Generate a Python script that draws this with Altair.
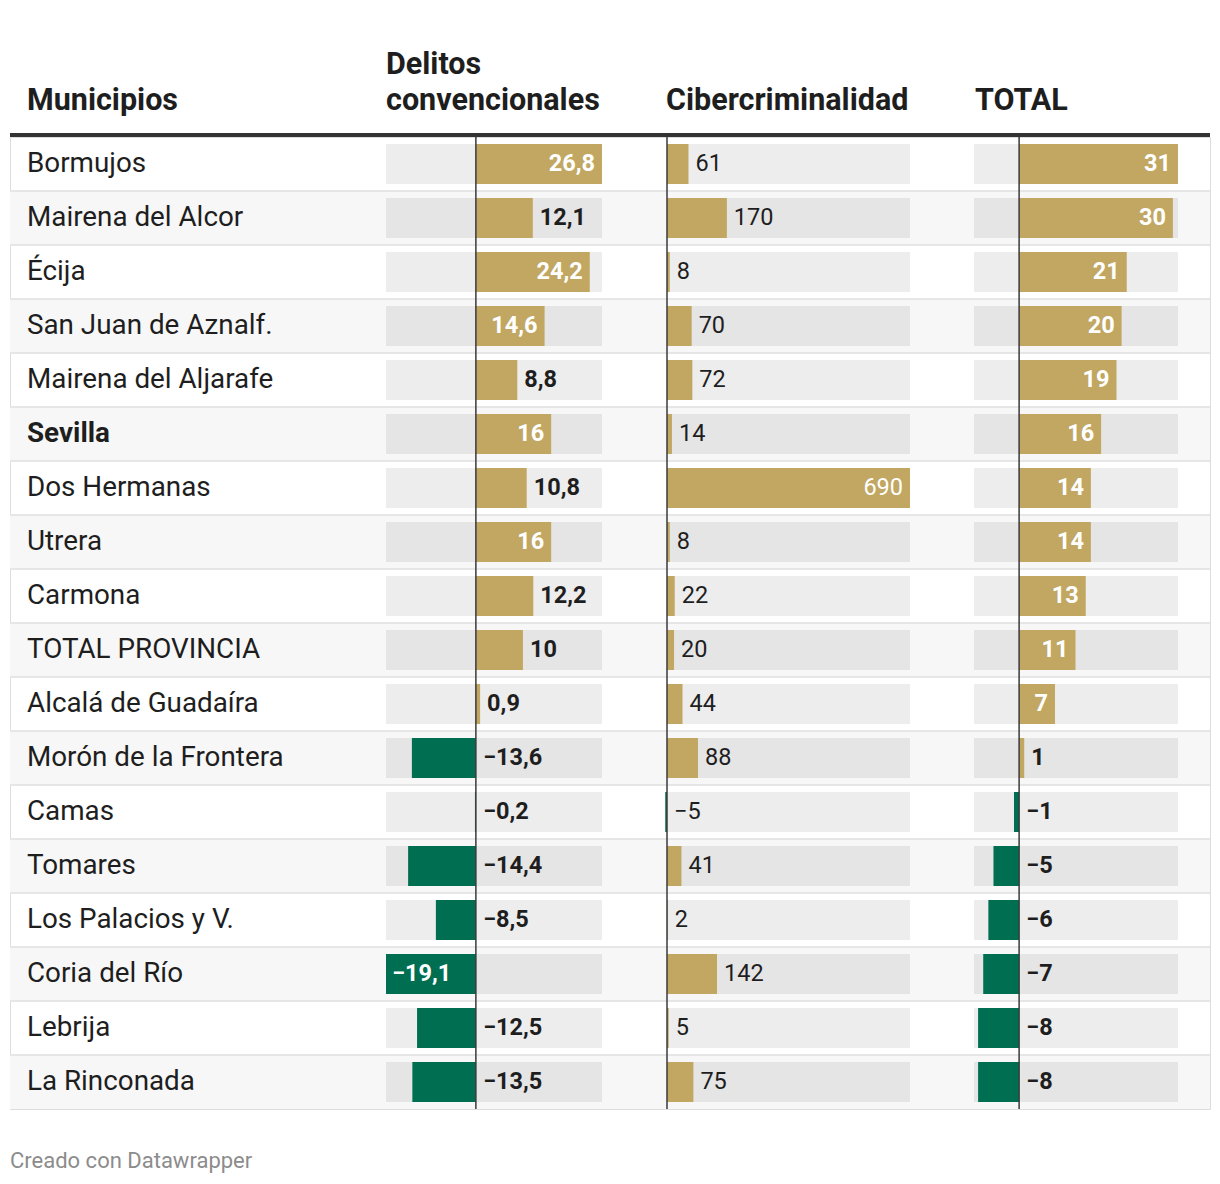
import altair as alt
import pandas as pd

names = ["Bormujos", "Mairena del Alcor", "Écija", "San Juan de Aznalf.", "Mairena del Aljarafe",
         "Sevilla", "Dos Hermanas", "Utrera", "Carmona", "TOTAL PROVINCIA", "Alcalá de Guadaíra",
         "Morón de la Frontera", "Camas", "Tomares", "Los Palacios y V.", "Coria del Río",
         "Lebrija", "La Rinconada"]
delitos = [26.8, 12.1, 24.2, 14.6, 8.8, 16, 10.8, 16, 12.2, 10, 0.9, -13.6, -0.2, -14.4, -8.5, -19.1, -12.5, -13.5]
ciber = [61, 170, 8, 70, 72, 14, 690, 8, 22, 20, 44, 88, -5, 41, 2, 142, 5, 75]
total = [31, 30, 21, 20, 19, 16, 14, 14, 13, 11, 7, 1, -1, -5, -6, -7, -8, -8]

headers = ["Municipios", "Delitos", "convencionales", "Cibercriminalidad", "TOTAL"]
footer = "Creado con Datawrapper"

GOLD = "#c1a762"
GREEN = "#006e51"
DARK = "#1e1e1e"
FONT = "Roboto"
W = 1200
ROW = 54
H = ROW * len(names)


def fmt(v):
    return f"{v:g}".replace(".", ",").replace("-", "\u2212")


df = pd.DataFrame({"name": names, "idx": range(len(names)), "d": delitos, "c": ciber, "t": total})
for f in ["d", "c", "t"]:
    df[f + "_lab"] = df[f].map(fmt)
    df[f + "_anc"] = df[f].clip(lower=0)
df["d_in"] = (df["d"] >= 14) | (df["d"] <= -15)
df["c_in"] = df["c"] > 600
df["t_in"] = df["t"] >= 5

yscale = alt.Scale(domain=names, paddingInner=0, paddingOuter=0)
Y = alt.Y("name:N", sort=names, scale=yscale, axis=None)

base = alt.Chart(df)
layers = []

# row backgrounds
layers.append(base.transform_filter("datum.idx % 2 == 1").mark_rect(color="#f7f7f7").encode(
    y=Y, x=alt.value(0), x2=alt.value(W)))
# separators
layers.append(base.transform_filter("datum.idx > 0").mark_rule(color="#e6e6e6", strokeWidth=2).encode(
    y=alt.Y("name:N", sort=names, scale=yscale, axis=None, bandPosition=0),
    x=alt.value(0), x2=alt.value(W)))

# names
layers.append(base.transform_filter("datum.name != 'Sevilla'").mark_text(
    align="left", baseline="middle", fontSize=27.8, color=DARK, font=FONT).encode(
    y=Y, x=alt.value(17), text="name:N"))
layers.append(base.transform_filter("datum.name == 'Sevilla'").mark_text(
    align="left", baseline="middle", fontSize=27.8, color=DARK, font=FONT, fontWeight="bold").encode(
    y=Y, x=alt.value(17), text="name:N"))


def column(f, dom, rng, box, weight):
    sc = alt.Scale(domain=dom, range=rng, nice=False, zero=False)
    out = []
    out.append(base.mark_bar(height=40, color="black", opacity=0.07).encode(
        y=Y, x=alt.XDatum(box[0], scale=sc, axis=None), x2=alt.X2Datum(box[1])))
    out.append(base.mark_bar(height=40).encode(
        y=Y, x=alt.X(f + ":Q", scale=sc, axis=None), x2=alt.X2Datum(0),
        color=alt.condition(f"datum.{f} >= 0", alt.value(GOLD), alt.value(GREEN))))
    tprops = dict(baseline="middle", fontSize=23.5, font=FONT, fontWeight=weight)
    out.append(base.transform_filter(f"datum.{f}_in && datum.{f} >= 0").mark_text(
        align="right", dx=-7, color="white", **tprops).encode(
        y=Y, x=alt.X(f + ":Q", scale=sc, axis=None), text=f + "_lab:N"))
    out.append(base.transform_filter(f"datum.{f}_in && datum.{f} < 0").mark_text(
        align="left", dx=6, color="white", **tprops).encode(
        y=Y, x=alt.X(f + ":Q", scale=sc, axis=None), text=f + "_lab:N"))
    out.append(base.transform_filter(f"!datum.{f}_in").mark_text(
        align="left", dx=7, color=DARK, **tprops).encode(
        y=Y, x=alt.X(f + "_anc:Q", scale=sc, axis=None), text=f + "_lab:N"))
    out.append(alt.Chart(pd.DataFrame({"z": [0]})).mark_rule(color="#3a3a3a", strokeWidth=1.5).encode(
        x=alt.X("z:Q", scale=sc, axis=None), y=alt.value(0), y2=alt.value(H)))
    return out


layers += column("d", [-19.1, 26.8], [376, 592], [-19.1, 26.8], "bold")
layers += column("c", [-5, 690], [655.24, 900], [0, 690], "normal")
layers += column("t", [-8.8, 31], [964, 1168], [-8.8, 31], "bold")

one = alt.Chart(pd.DataFrame({"a": [0]}))
# header line
layers.append(one.mark_rule(color="#333333", strokeWidth=4).encode(
    x=alt.value(0), x2=alt.value(W), y=alt.value(-2)))
hdr_pos = [(headers[0], 17, -27), (headers[1], 376, -63), (headers[2], 376, -27),
           (headers[3], 656, -27), (headers[4], 965, -27)]
for txt, hx, hy in hdr_pos:
    layers.append(one.mark_text(text=txt, align="left", baseline="alphabetic", fontSize=30.5,
                                fontWeight="bold", color=DARK, font=FONT).encode(
        x=alt.value(hx), y=alt.value(hy)))
layers.append(one.mark_text(text=footer, align="left", baseline="alphabetic", fontSize=22,
                            color="#8c8c8c", font=FONT).encode(x=alt.value(0), y=alt.value(1031)))

chart = alt.layer(*layers).resolve_scale(x="independent").properties(
    width=W, height=H,
    autosize=alt.AutoSizeParams(type="none"),
    padding={"left": 2, "top": 129, "right": 2, "bottom": 70},
).configure_view(stroke=None).configure(font=FONT)

chart.save("out.html", embed_options={"renderer": "svg", "actions": False})
